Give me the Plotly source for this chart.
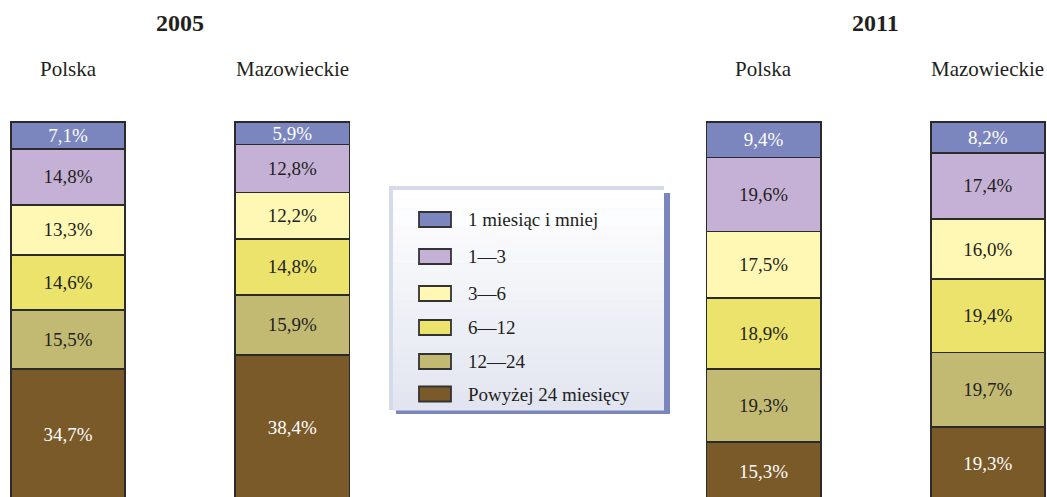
import plotly.graph_objects as go
from plotly.subplots import make_subplots

years = ["2005", "2011"]
regions = ["Polska", "Mazowieckie"]
categories = ["1 miesiąc i mniej", "1—3", "3—6", "6—12", "12—24", "Powyżej 24 miesięcy"]
colors = ["#7b86be", "#c6b1d6", "#fff8b4", "#ebe36c", "#c2ba72", "#7b5a29"]
text_colors = ["white", "#231f20", "#231f20", "#231f20", "#231f20", "white"]

# values per category -> [Polska, Mazowieckie]
values_2005 = {
    "1 miesiąc i mniej": [7.1, 5.9],
    "1—3": [14.8, 12.8],
    "3—6": [13.3, 12.2],
    "6—12": [14.6, 14.8],
    "12—24": [15.5, 15.9],
    "Powyżej 24 miesięcy": [34.7, 38.4],
}
values_2011 = {
    "1 miesiąc i mniej": [9.4, 8.2],
    "1—3": [19.6, 17.4],
    "3—6": [17.5, 16.0],
    "6—12": [18.9, 19.4],
    "12—24": [19.3, 19.7],
    "Powyżej 24 miesięcy": [15.3, 19.3],
}

W, H = 1047, 497
FONT = "Liberation Serif"

fig = make_subplots(rows=1, cols=2, horizontal_spacing=0.2)

for col, vals in ((1, values_2005), (2, values_2011)):
    for cat, colr, tcol in zip(reversed(categories), reversed(colors), reversed(text_colors)):
        fig.add_trace(
            go.Bar(
                x=regions,
                y=vals[cat],
                name=cat,
                marker=dict(color=colr, line=dict(color="#2b2b2b", width=1.6)),
                texttemplate="%{y:.1f}%",
                textposition="inside",
                insidetextanchor="middle",
                textangle=0,
                constraintext="none",
                textfont=dict(family=FONT, size=19, color=tcol),
                width=0.51,
                showlegend=False,
                hoverinfo="skip",
            ),
            row=1, col=col,
        )

def px(x):
    return x / W

def py(y):
    return 1 - y / H

fig.update_layout(
    width=W, height=H,
    margin=dict(l=0, r=0, t=0, b=0),
    barmode="stack",
    separators=", ",
    plot_bgcolor="white",
    paper_bgcolor="white",
    font=dict(family=FONT, color="#231f20"),
)
# bar centres at px 68, 292.5 (2005) and 763.5, 988 (2011); 224.5 px per category
fig.update_xaxes(visible=False, domain=[0, 0.4], range=[-0.303, 1.563], row=1, col=1)
fig.update_xaxes(visible=False, domain=[0.6, 1.0], range=[-0.603, 1.263], row=1, col=2)
fig.update_yaxes(visible=False, range=[0.79, 132.28])

# Titles and region labels
for xref, yr in (("x", years[0]), ("x2", years[1])):
    fig.add_annotation(x=0.5, xref=xref, y=py(23), yref="paper", text="<b>%s</b>" % yr,
                       showarrow=False, yanchor="middle", xanchor="center",
                       font=dict(family=FONT, size=24, color="#231f20"))
    for j, r in enumerate(regions):
        fig.add_annotation(x=j, xref=xref, y=py(69), yref="paper", text=r,
                           showarrow=False, yanchor="middle", xanchor="center",
                           font=dict(family=FONT, size=21, color="#231f20"))

# Custom legend box
shapes = []
shapes.append(dict(type="rect", xref="paper", yref="paper", x0=px(396), x1=px(670), y0=py(414), y1=py(193),
                   fillcolor="#7b86be", line=dict(width=0), layer="above"))
shapes.append(dict(type="rect", xref="paper", yref="paper", x0=px(389), x1=px(664), y0=py(410), y1=py(186),
                   fillcolor="#d6dbec", line=dict(width=0), layer="above"))
n = 24
top, bot = 190, 410
for k in range(n):
    t = k / (n - 1)
    c0 = (255, 255, 255)
    c1 = (226, 229, 240)
    c = tuple(int(round(a + (b - a) * t)) for a, b in zip(c0, c1))
    y0 = top + (bot - top) * k / n
    y1 = top + (bot - top) * (k + 1) / n
    shapes.append(dict(type="rect", xref="paper", yref="paper", x0=px(393), x1=px(664), y0=py(y1 + 0.5), y1=py(y0),
                       fillcolor="rgb(%d,%d,%d)" % c, line=dict(width=0), layer="above"))

legend_y = [219.5, 256.5, 293.5, 327.5, 361.5, 394]
for cat, colr, yc in zip(categories, colors, legend_y):
    shapes.append(dict(type="rect", xref="paper", yref="paper", x0=px(419), x1=px(451), y0=py(yc + 7.5), y1=py(yc - 7.5),
                       fillcolor=colr, line=dict(color="#333333", width=1.8), layer="above"))
    fig.add_annotation(x=px(466), y=py(yc), xref="paper", yref="paper", text=cat,
                       xanchor="left", yanchor="middle",
                       showarrow=False, font=dict(family=FONT, size=19, color="#231f20"))
fig.update_layout(shapes=shapes)

fig.write_html(
    "out.html",
    config={"displayModeBar": False, "staticPlot": True},
    post_script="document.body.style.margin='0';document.body.style.overflow='hidden';",
)
